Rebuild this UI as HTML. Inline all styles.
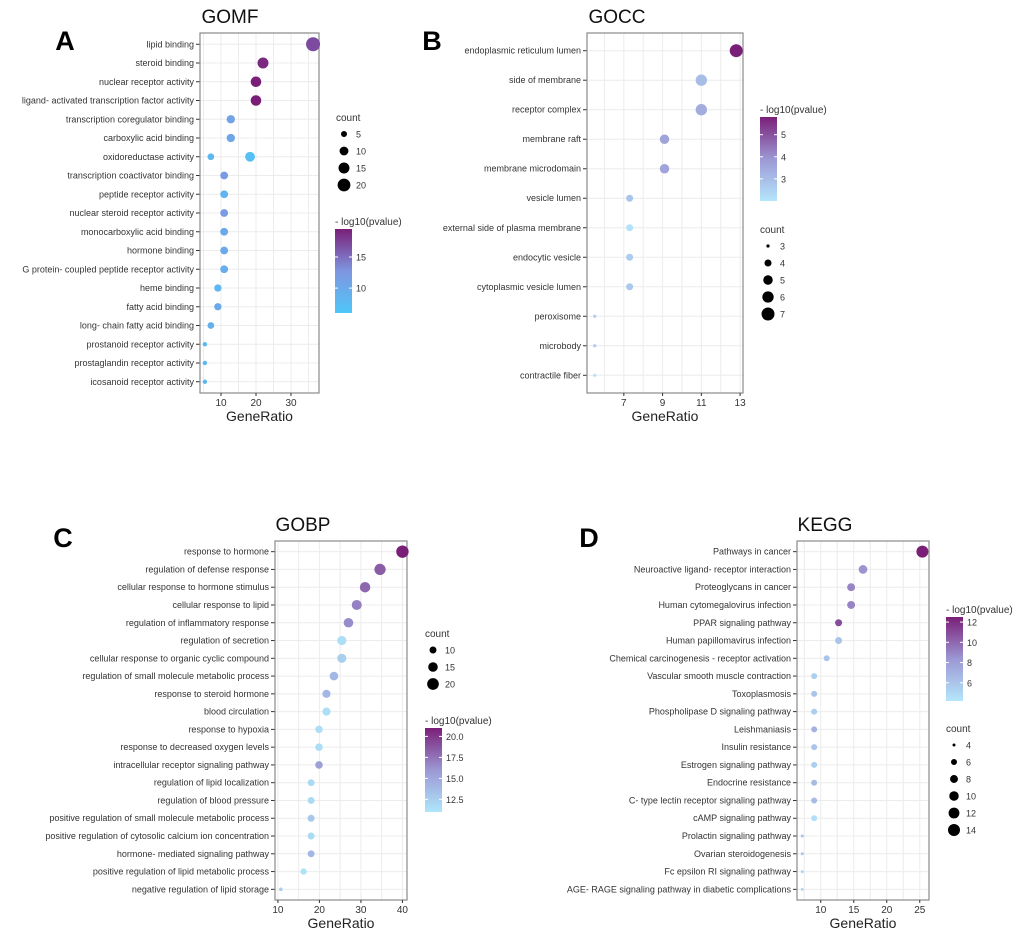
<!DOCTYPE html>
<html><head><meta charset="utf-8">
<style>
html,body{margin:0;padding:0;background:#fff;}
svg{display:block;font-family:"Liberation Sans",sans-serif;}
</style></head>
<body>
<svg id="fig" width="1020" height="936" viewBox="0 0 1020 936" xmlns="http://www.w3.org/2000/svg"></svg>
<script>
// ---- Panel A (GOMF) data
const aTerms=["lipid binding","steroid binding","nuclear receptor activity","ligand- activated transcription factor activity","transcription coregulator binding","carboxylic acid binding","oxidoreductase activity","transcription coactivator binding","peptide receptor activity","nuclear steroid receptor activity","monocarboxylic acid binding","hormone binding","G protein- coupled peptide receptor activity","heme binding","fatty acid binding","long- chain fatty acid binding","prostanoid receptor activity","prostaglandin receptor activity","icosanoid receptor activity"];
const aRow=[0,1,2,3,4,5,6,6,7,8,9,10,11,12,13,14,15,16,17,18];
const aRatio=[36.3,22,20,20,12.8,12.8,7.1,18.3,10.9,10.9,10.9,10.9,10.9,10.9,9.1,9.1,7.1,5.4,5.4,5.4];
const aCount=[24,15,14,14,9,9,6,12,8,8,8,8,8,8,7,7,6,3,3,3];
const aP=[17,19,20,20,11,10.5,8,7,12,8.5,12,10,10,9.5,8,10,9,8,8,8];
const aXTicks=[10,20,30];
const aSizeLeg=[5,10,15,20];
const aColLeg=[10,15];
// ---- Panel B (GOCC)
const bTerms=["endoplasmic reticulum lumen","side of membrane","receptor complex","membrane raft","membrane microdomain","vesicle lumen","external side of plasma membrane","endocytic vesicle","cytoplasmic vesicle lumen","peroxisome","microbody","contractile fiber"];
const bRatio=[12.8,11,11,9.1,9.1,7.3,7.3,7.3,7.3,5.5,5.5,5.5];
const bCount=[7,6,6,5,5,4,4,4,4,3,3,3];
const bP=[5.8,3,3.4,3.6,3.6,2.8,2.1,2.6,2.7,2.6,2.6,2.1];
const bXTicks=[7,9,11,13];
const bSizeLeg=[3,4,5,6,7];
const bColLeg=[3,4,5];
// ---- Panel C (GOBP)
const cTerms=["response to hormone","regulation of defense response","cellular response to hormone stimulus","cellular response to lipid","regulation of inflammatory response","regulation of secretion","cellular response to organic cyclic compound","regulation of small molecule metabolic process","response to steroid hormone","blood circulation","response to hypoxia","response to decreased oxygen levels","intracellular receptor signaling pathway","regulation of lipid localization","regulation of blood pressure","positive regulation of small molecule metabolic process","positive regulation of cytosolic calcium ion concentration","hormone- mediated signaling pathway","positive regulation of lipid metabolic process","negative regulation of lipid storage"];
const cRatio=[40,34.6,31,29,27,25.4,25.4,23.5,21.7,21.7,19.9,19.9,19.9,18,18,18,18,18,16.2,10.7];
const cCount=[22,19,17,16,15,14,14,13,12,12,11,11,11,10,10,10,10,10,9,6];
const cP=[21,18.5,18,17,16.5,11.5,12.5,14,14,11.5,11.5,11.5,15.5,11.8,11.8,13,11.8,14,11.2,12.5];
const cXTicks=[10,20,30,40];
const cSizeLeg=[10,15,20];
const cColLeg=[12.5,15,17.5,20];
// ---- Panel D (KEGG)
const dTerms=["Pathways in cancer","Neuroactive ligand- receptor interaction","Proteoglycans in cancer","Human cytomegalovirus infection","PPAR signaling pathway","Human papillomavirus infection","Chemical carcinogenesis -  receptor activation","Vascular smooth muscle contraction","Toxoplasmosis","Phospholipase D signaling pathway","Leishmaniasis","Insulin resistance","Estrogen signaling pathway","Endocrine resistance","C- type lectin receptor signaling pathway","cAMP signaling pathway","Prolactin signaling pathway","Ovarian steroidogenesis","Fc epsilon RI signaling pathway","AGE- RAGE signaling pathway in diabetic complications"];
const dRatio=[25.4,16.4,14.6,14.6,12.7,12.7,10.9,9,9,9,9,9,9,9,9,9,7.2,7.2,7.2,7.2];
const dCount=[14,9,8,8,7,7,6,6,6,6,6,6,6,6,6,6,4,4,4,4];
const dP=[12.5,8.5,9,9,11,6,6,5.5,6,5.5,7,6,5.5,6.5,6.5,4.5,6,6,5,5];
const dXTicks=[10,15,20,25];
const dSizeLeg=[4,6,8,10,12,14];
const dColLeg=[6,8,10,12];

const NS="http://www.w3.org/2000/svg";
const svg=document.getElementById('fig');
function mk(tag,attrs,parent,text){const e=document.createElementNS(NS,tag);for(const k in attrs)e.setAttribute(k,attrs[k]);if(text!==undefined)e.textContent=text;(parent||svg).appendChild(e);return e;}
function hex(c){return [parseInt(c.slice(1,3),16),parseInt(c.slice(3,5),16),parseInt(c.slice(5,7),16)];}
function mix(a,b,t){const A=hex(a),B=hex(b);return 'rgb('+A.map((v,i)=>Math.round(v+(B[i]-v)*t)).join(',')+')';}
function colFn(lo,mid,hi,pmin,pmax){return p=>{let t=Math.max(0,Math.min(1,(p-pmin)/(pmax-pmin)));return t<0.5?mix(lo,mid,t*2):mix(mid,hi,(t-0.5)*2);};}

function panel(cfg){
  const g=mk('g',{});
  
  
  const L=cfg.box[0],T=cfg.box[1],R=cfg.box[2],B=cfg.box[3];
  const xs=v=>L+(v-cfg.xd[0])/(cfg.xd[1]-cfg.xd[0])*(R-L);
  const n=cfg.terms.length;
  const step=(B-T)/(n-1+1.2);
  const ys=i=>T+step*0.6+i*step;
  const col=colFn(cfg.lo,cfg.mid,cfg.hi,cfg.pr[0],cfg.pr[1]);
  const rs=c=>{const t=Math.max(0,(c-cfg.sr[0])/(cfg.sr[2]-cfg.sr[0]));return Math.sqrt(cfg.sr[1]*cfg.sr[1]+t*(cfg.sr[3]*cfg.sr[3]-cfg.sr[1]*cfg.sr[1]));};
  const ticks=cfg.xt; const dt=ticks[1]-ticks[0];
  for(let v=ticks[0]-dt*1.5;v<=cfg.xd[1];v+=dt/2){
    if(v<cfg.xd[0])continue;
    const gl=mk('line',{x1:xs(v),x2:xs(v),y1:T,y2:B,stroke:'#ececec','stroke-width':1},g);
    
    
  }
  cfg.terms.forEach((t,i)=>{
    const y=ys(i);
    const hl=mk('line',{x1:L,x2:R,y1:y,y2:y,stroke:'#ececec','stroke-width':1},g);
    
    
    mk('line',{x1:L-4,x2:L,y1:y,y2:y,stroke:'#333','stroke-width':1},g);
    const lt=mk('text',{x:L-6,y:y+3,'text-anchor':'end','font-size':9,fill:'#333'},g,t);
    
    
  });
  const bx=mk('rect',{x:L,y:T,width:R-L,height:B-T,fill:'none',stroke:'#8a8a8a','stroke-width':1.2},g);
  
  
  ticks.forEach(v=>{
    mk('line',{x1:xs(v),x2:xs(v),y1:B,y2:B+3,stroke:'#333'},g);
    const tl=mk('text',{x:xs(v),y:B+13,'text-anchor':'middle','font-size':10,fill:'#333'},g,v);
    
    
  });
  cfg.ratio.forEach((v,k)=>{
    const row=cfg.row?cfg.row[k]:k;
    const c=mk('circle',{cx:xs(v),cy:ys(row),r:rs(cfg.count[k]),fill:col(cfg.p[k])},g);
    
    
  });
  const ttl=mk('text',{x:cfg.title[1],y:cfg.title[2],'text-anchor':'middle','font-size':19,fill:'#111'},g,cfg.title[0]);
  
  
  const let_=mk('text',{x:cfg.letter[1],y:cfg.letter[2],'text-anchor':'middle','font-size':27,'font-weight':'bold',fill:'#000'},g,cfg.letter[0]);
  
  
  const xt=mk('text',{x:(L+R)/2,y:B+28,'text-anchor':'middle','font-size':14,fill:'#222'},g,'GeneRatio');
  
  
  const sl=cfg.sizeLeg;
  const st=mk('text',{x:sl.x-8,y:sl.y,'font-size':10,fill:'#333'},g,'count');
  
  
  sl.vals.forEach((v,i)=>{
    const yy=sl.y+sl.first+i*17;
    const d=mk('circle',{cx:sl.x,cy:yy,r:rs(v),fill:'#000'},g);
    
    
    const tx=mk('text',{x:sl.x+12,y:yy+3.5,'font-size':9,fill:'#333'},g,v);
    
    
  });
  const cl=cfg.colLeg;
  const gid='grad'+cfg.id;
  const defs=mk('defs',{},g);
  const lg=mk('linearGradient',{id:gid,x1:0,y1:1,x2:0,y2:0},defs);
  mk('stop',{offset:'0%','stop-color':cfg.lo},lg);
  mk('stop',{offset:'50%','stop-color':cfg.mid},lg);
  mk('stop',{offset:'100%','stop-color':cfg.hi},lg);
  const ct=mk('text',{x:cl.x,y:cl.y-4,'font-size':10,fill:'#333'},g,'- log10(pvalue)');
  
  
  const bar=mk('rect',{x:cl.x,y:cl.y,width:17,height:cl.h,fill:'url(#'+gid+')'},g);
  
  
  cl.vals.forEach(v=>{
    const yy=cl.y+cl.h-(v-cfg.pr[0])/(cfg.pr[1]-cfg.pr[0])*cl.h;
    mk('line',{x1:cl.x,x2:cl.x+3,y1:yy,y2:yy,stroke:'#fff'},g);
    mk('line',{x1:cl.x+14,x2:cl.x+17,y1:yy,y2:yy,stroke:'#fff'},g);
    const tx=mk('text',{x:cl.x+21,y:yy+3.5,'font-size':9,fill:'#333'},g,(cfg.fmt?v.toFixed(1):v));
    
    
  });
}

panel({id:'gomf',terms:aTerms,row:aRow,ratio:aRatio,count:aCount,p:aP,xt:aXTicks,box:[200,33,319,393],xd:[4,38],
  lo:'#4fc6f8',mid:'#7f96e0',hi:'#7a1f78',pr:[6,19.5],sr:[3,2.2,24,7],
  title:['GOMF',230,23],letter:['A',65,50],
  sizeLeg:{x:344,y:121,first:13,vals:aSizeLeg},colLeg:{x:335,y:229,h:84,vals:aColLeg}});
panel({id:'gocc',terms:bTerms,ratio:bRatio,count:bCount,p:bP,xt:bXTicks,box:[587,33,743,393],xd:[5.1,13.15],
  lo:'#b4e6fb',mid:'#9c98d4',hi:'#7a1f78',pr:[2,5.8],sr:[3,1.6,7,6.5],
  title:['GOCC',617,23],letter:['B',432,50],
  sizeLeg:{x:768,y:233,first:13,vals:bSizeLeg},colLeg:{x:760,y:117,h:84,vals:bColLeg}});
panel({id:'gobp',terms:cTerms,ratio:cRatio,count:cCount,p:cP,xt:cXTicks,box:[275,541,407,900],xd:[9.3,41.1],
  lo:'#aee6fb',mid:'#9c98d4',hi:'#7a1f78',pr:[11,21],sr:[6,1.8,22,6.2],
  title:['GOBP',303,531],letter:['C',63,547],
  sizeLeg:{x:433,y:637,first:13,vals:cSizeLeg},colLeg:{x:425,y:728,h:84,vals:cColLeg},fmt:true});
panel({id:'kegg',terms:dTerms,ratio:dRatio,count:dCount,p:dP,xt:dXTicks,box:[797,541,929,900],xd:[6.4,26.4],
  lo:'#b4e6fb',mid:'#9c98d4',hi:'#7a1f78',pr:[4.2,12.5],sr:[4,1.5,14,6],
  title:['KEGG',825,531],letter:['D',589,547],
  sizeLeg:{x:954,y:732,first:13,vals:dSizeLeg},colLeg:{x:946,y:617,h:84,vals:dColLeg}});
</script>
</body></html>
